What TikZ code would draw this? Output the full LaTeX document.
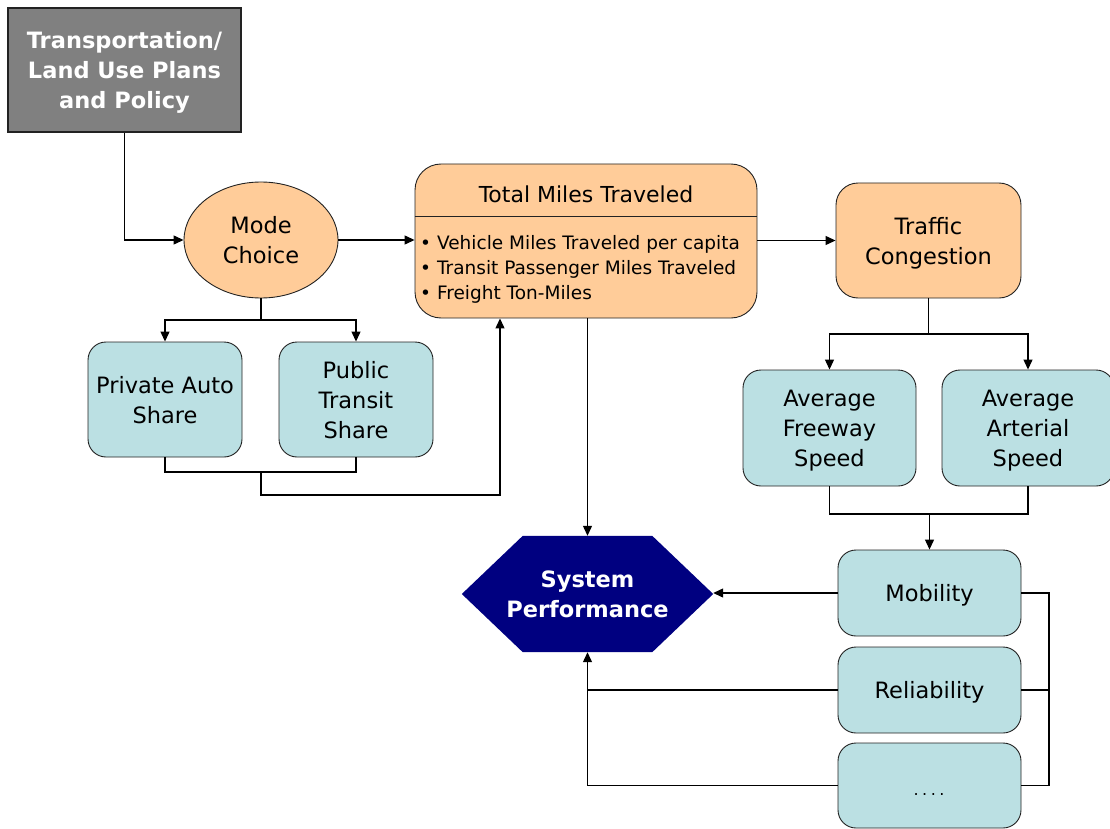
\documentclass[tikz,border=0pt]{standalone}
\usepackage{fontspec}
\setmainfont{DejaVu Sans}
\usetikzlibrary{arrows.meta,calc,shapes.geometric}

\definecolor{peach}{HTML}{FFCC99}
\definecolor{paleteal}{HTML}{BBE0E3}
\definecolor{navyfill}{HTML}{000080}
\definecolor{policygray}{HTML}{808080}
\definecolor{edge}{HTML}{222222}

\tikzset{
  base/.style={draw=edge, line width=0.9pt, align=center, text=black,
    font=\fontsize{22.5}{30}\selectfont, inner sep=0pt, text depth=-7pt},
  tealbox/.style={base, rectangle, rounded corners=18pt, fill=paleteal},
  peachbox/.style={base, rectangle, rounded corners=22pt, fill=peach},
  link/.style={line width=1.2pt, draw=black},
  arr/.style={link, -{Triangle[length=10pt,width=9pt]}},
}

\begin{document}
\begin{tikzpicture}[x=1pt,y=-1pt]
\useasboundingbox (0,0) rectangle (1110,829);

% policy box
\node[base, fill=policygray, draw=edge, line width=1.4pt, text=white,
      font=\bfseries\fontsize{22.5}{30}\selectfont,
      minimum width=233pt, minimum height=124pt] (policy) at (124.5,70)
  {Transportation/\\Land Use Plans\\and Policy};

% mode choice
\node[base, ellipse, fill=peach, minimum width=154pt, minimum height=116pt,
      text depth=-9pt]
  (mode) at (261,240) {Mode\\Choice};

% total miles traveled
\node[peachbox, rounded corners=26pt, minimum width=342pt, minimum height=154pt]
  (tmt) at (586,241) {};
\draw[line width=0.9pt, draw=edge] ($(tmt.west)+(0,-25)$) -- ($(tmt.east)+(0,-25)$);
\node[font=\fontsize{22}{30}\selectfont, inner sep=0pt] (tmttitle) at (586,194.5) {Total Miles Traveled};
\node[font=\fontsize{18.5}{25}\selectfont, align=left, inner sep=0pt, anchor=west]
  (tmtlist) at (420,269)
  {•\hspace{6pt}Vehicle Miles Traveled per capita\\
   •\hspace{6pt}Transit Passenger Miles Traveled\\
   •\hspace{6pt}Freight Ton-Miles};

% traffic congestion
\node[peachbox, minimum width=185pt, minimum height=115pt] (tc) at (928.5,240.5)
  {Traffic\\Congestion};

% shares
\node[tealbox, minimum width=154pt, minimum height=115pt] (pas) at (165,399.5)
  {Private Auto\\Share};
\node[tealbox, minimum width=154pt, minimum height=115pt] (pts) at (356,399.5)
  {Public\\Transit\\Share};

% speeds
\node[tealbox, minimum width=173pt, minimum height=116pt] (afs) at (829.5,428)
  {Average\\Freeway\\Speed};
\node[tealbox, minimum width=172pt, minimum height=116pt] (aas) at (1028,428)
  {Average\\Arterial\\Speed};

% measures
\node[tealbox, minimum width=183pt, minimum height=86pt] (mob) at (929.5,593) {Mobility};
\node[tealbox, minimum width=183pt, minimum height=86pt] (rel) at (929.5,690) {Reliability};
\node[tealbox, minimum width=183pt, minimum height=85pt] (more) at (929.5,785.5) {};
\node[font=\fontsize{16}{20}\selectfont, inner sep=0pt] (moretext) at (929,794)
  {.\hspace{3.5pt}.\hspace{3.5pt}.\hspace{3.5pt}.};

% system performance hexagon
\node[minimum width=251pt, minimum height=116pt, inner sep=0pt] (sp) at (587.5,594) {};
\fill[navyfill] (sp.west) -- ($(sp.north west)+(61,0)$) -- ($(sp.north east)+(-61,0)$)
  -- (sp.east) -- ($(sp.south east)+(-61,0)$) -- ($(sp.south west)+(61,0)$) -- cycle;
\node[text=white, font=\bfseries\fontsize{22.5}{30}\selectfont, align=center, inner sep=0pt]
  (sptext) at (sp.center) {System\\Performance};

% junction points
\coordinate (mcj) at (261,320);
\coordinate (pj) at (261,472);
\coordinate (pk) at (261,495);
\coordinate (tin) at (500,0);
\coordinate (tcj) at (928.5,334);
\coordinate (spj) at (929.5,514);
\coordinate (rb) at (1049,0);

% connectors
\draw[arr] (policy.south) |- (mode.west);
\draw[arr] (mode.east) -- (mode.east -| tmt.west);
\draw[arr] (tc.west -| tmt.east) -- (tc.west);

\draw[link] (mode.south) -- (mcj);
\draw[arr] (mcj) -| (pas.north);
\draw[arr] (mcj) -| (pts.north);
\draw[link] (pas.south) |- (pj);
\draw[link] (pts.south) |- (pj);
\draw[arr] (pj) -- (pk) -| (tmt.south -| tin);

\draw[link] (tc.south) -- (tcj);
\draw[arr] (tcj) -| (afs.north);
\draw[arr] (tcj) -| (aas.north);
\draw[link] (afs.south) |- (spj);
\draw[link] (aas.south) |- (spj);
\draw[arr] (spj) -- (mob.north);

\draw[arr] (sp.north |- tmt.south) -- (sp.north);

\draw[link] (mob.east) -- (mob.east -| rb) |- (more.east);
\draw[link] (rel.east) -- (rel.east -| rb);

\draw[arr] (mob.west) -- (mob.west -| sp.east);
\draw[arr] (rel.west) -| (sp.south);
\draw[link] (more.west) -| (rel.west -| sp.south);
\end{tikzpicture}
\end{document}
